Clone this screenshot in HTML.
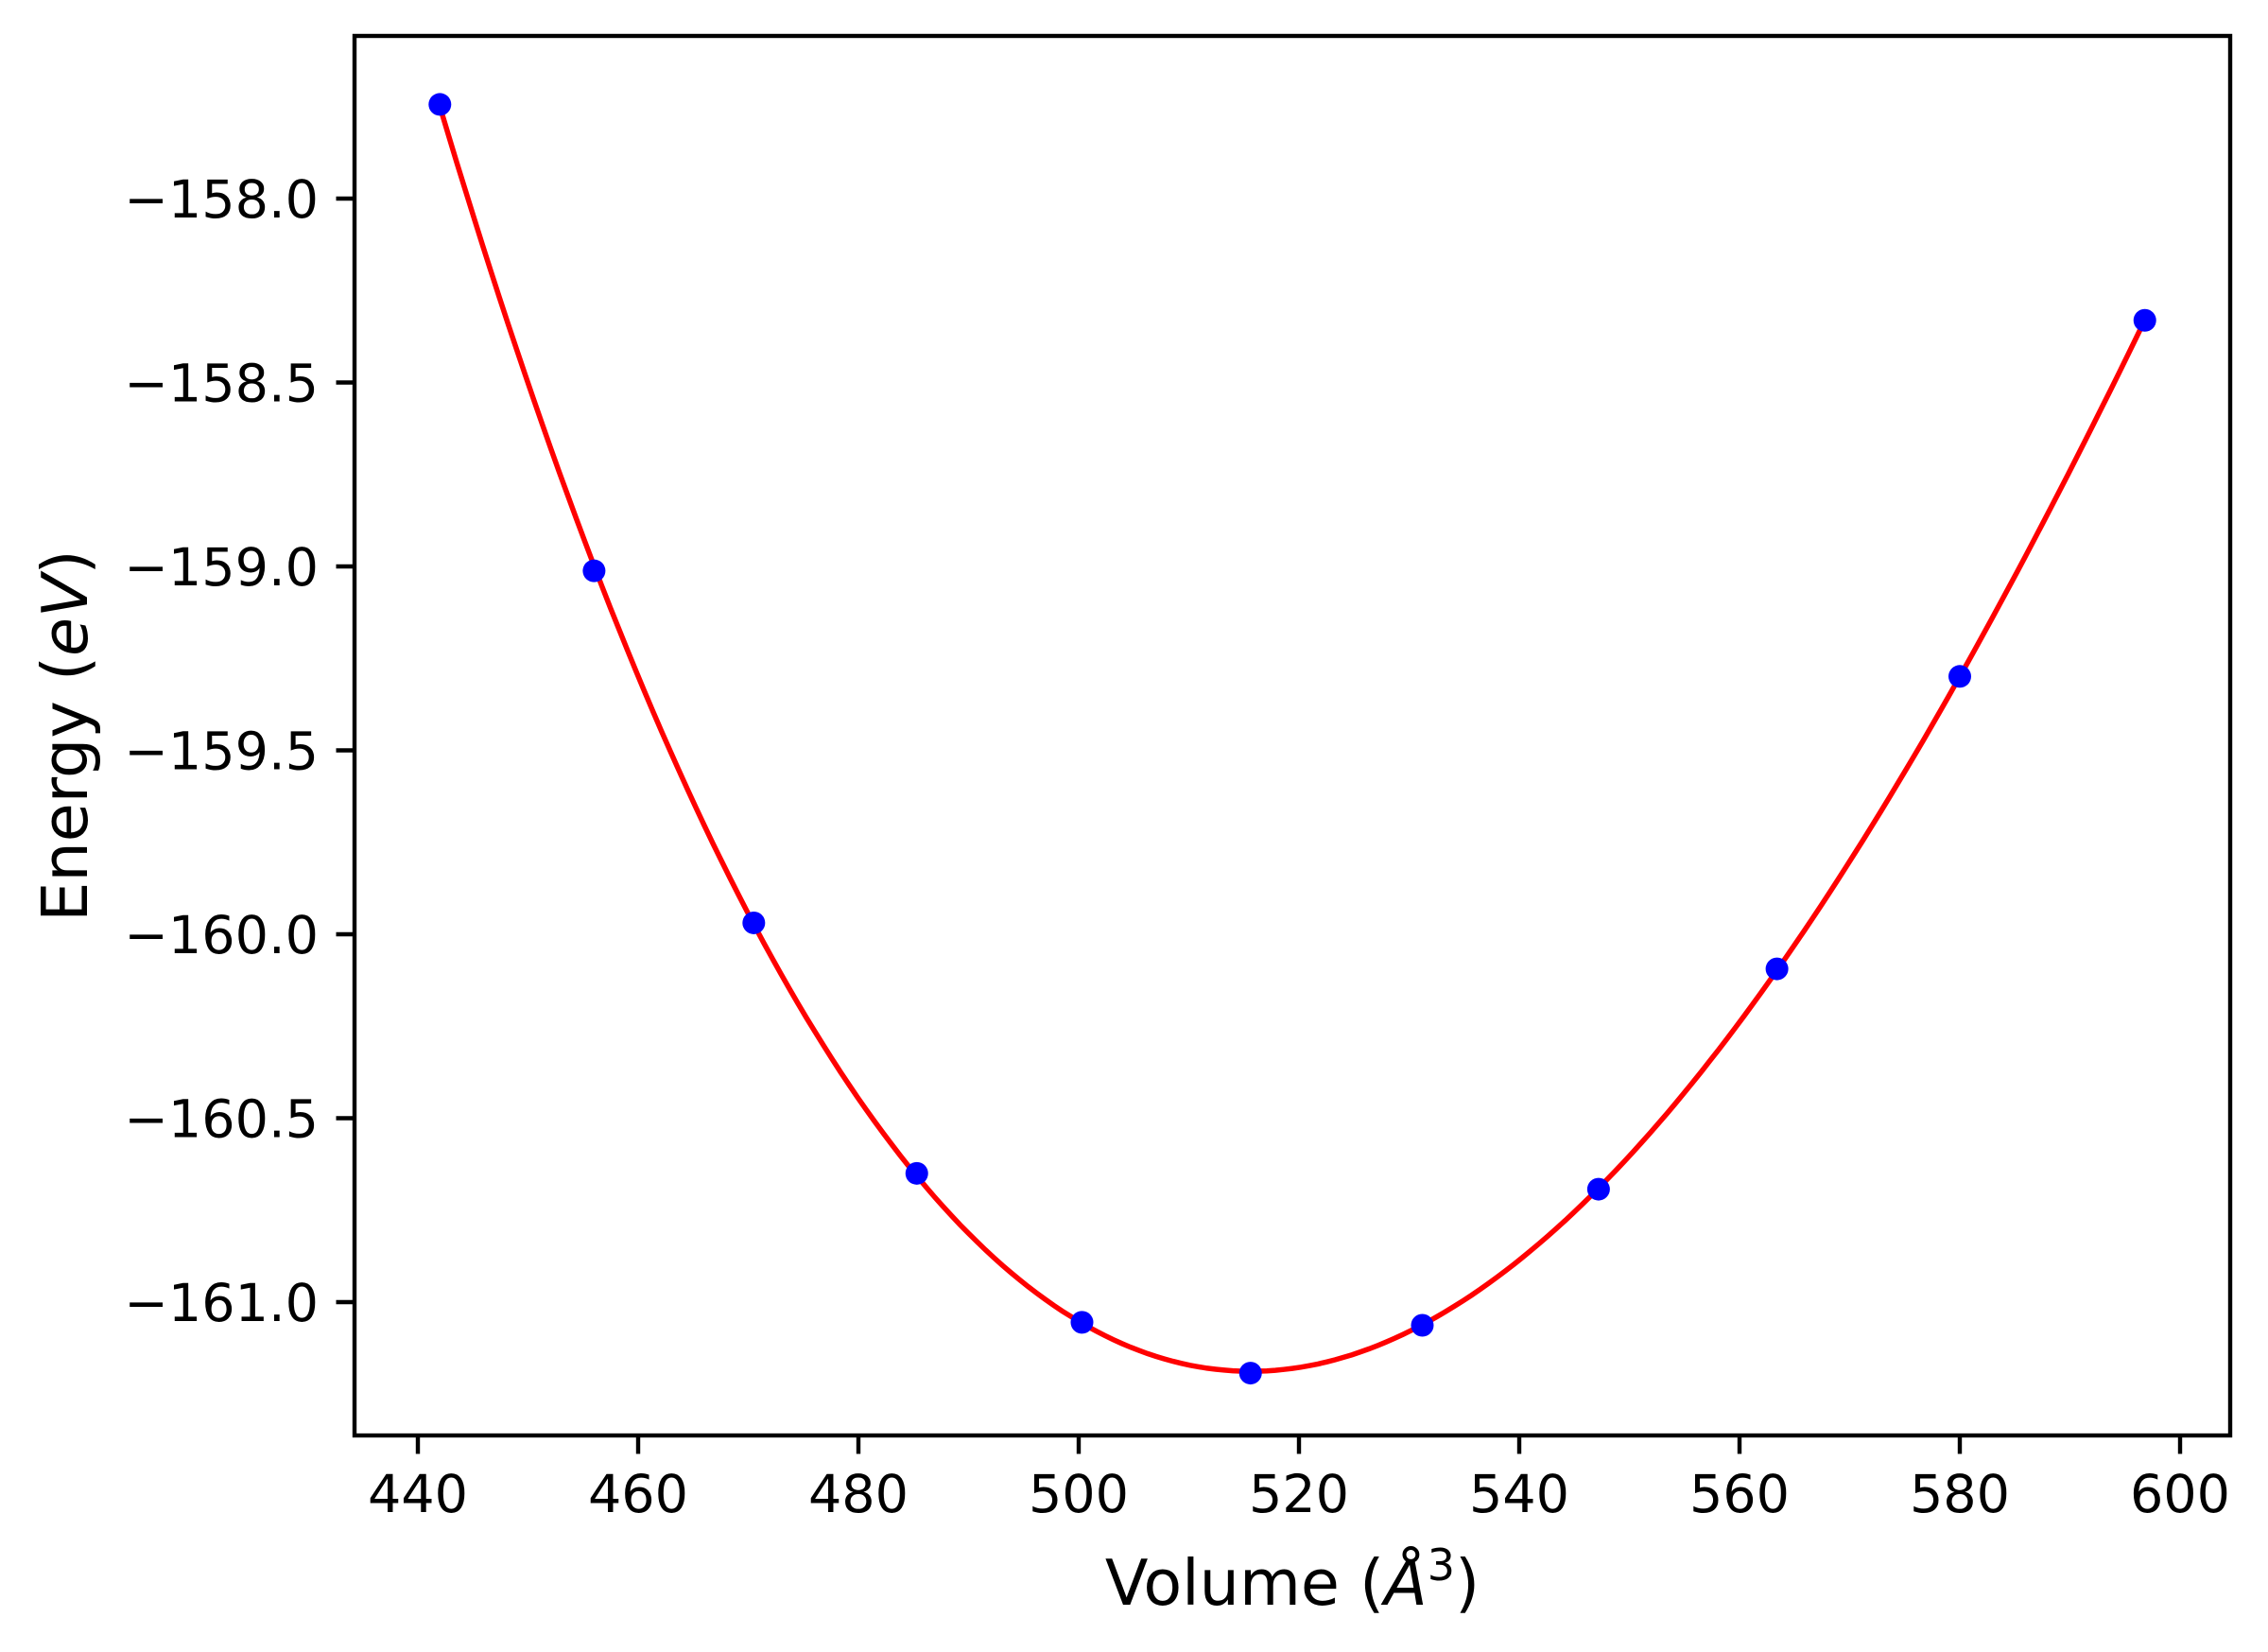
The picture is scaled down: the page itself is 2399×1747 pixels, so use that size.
<!DOCTYPE html>
<html><head><meta charset="utf-8"><style>body{margin:0;background:#fff}svg{display:block}text{font-family:"DejaVu Sans","Liberation Sans",sans-serif;fill:#000}</style></head>
<body>
<svg id="chart" width="2399" height="1747" viewBox="0 0 2399 1747" xmlns="http://www.w3.org/2000/svg">
<rect width="2399" height="1747" fill="#fff"/>
<g id="plot"></g>
<rect x="375" y="38" width="1984" height="1480" fill="none" stroke="#000" stroke-width="4.4"/>
<text x="1367" y="1697" font-size="66.7" text-anchor="middle">Volume (<tspan font-style="italic">Å</tspan><tspan font-size="46" dy="-26">3</tspan><tspan dy="26">)</tspan></text>
<text transform="translate(92,778) rotate(-90)" font-size="66.7" text-anchor="middle">Energy (<tspan font-style="italic">eV</tspan>)</text>
</svg>
<script>
const volumes = [442.0, 456.0, 470.5, 485.3, 500.3, 515.6, 531.2, 547.2, 563.4, 580.0, 596.8];
const energies = [-157.744, -159.012, -159.969, -160.650, -161.055, -161.193, -161.063, -160.693, -160.094, -159.299, -158.331];
const xTicks = [440, 460, 480, 500, 520, 540, 560, 580, 600];
const yTicks = [-158.0, -158.5, -159.0, -159.5, -160.0, -160.5, -161.0];
const yTickLabels = ["\u2212158.0", "\u2212158.5", "\u2212159.0", "\u2212159.5", "\u2212160.0", "\u2212160.5", "\u2212161.0"];

const NS = "http://www.w3.org/2000/svg";
const plot = document.getElementById('plot');
const X = v => 442 + (v - 440) * (2306 - 442) / 160;
const Y = e => 210 + (-158.0 - e) * (1377 - 210) / 3.0;
function mk(tag, attrs) { const el = document.createElementNS(NS, tag); for (const k in attrs) el.setAttribute(k, attrs[k]); plot.appendChild(el); return el; }

xTicks.forEach(t => {
  const l = mk('line', {x1: X(t), x2: X(t), y1: 1518, y2: 1537.5, stroke: '#000', 'stroke-width': 4.4});
  
  
  const tx = mk('text', {x: X(t), y: 1599, 'font-size': 55.6, 'text-anchor': 'middle'});
  tx.textContent = String(t);
  
  
});
yTicks.forEach((t, i) => {
  const l = mk('line', {x1: 355.5, x2: 375, y1: Y(t), y2: Y(t), stroke: '#000', 'stroke-width': 4.4});
  
  
  const tx = mk('text', {x: 337, y: Y(t) + 20, 'font-size': 55.6, 'text-anchor': 'end'});
  tx.textContent = yTickLabels[i];
  
  
});

// cubic least-squares fit curve through the data
const m = volumes.reduce((a, b) => a + b) / volumes.length;
const n = 4, A = [], b = [];
for (let i = 0; i < n; i++) { A.push(new Array(n).fill(0)); b.push(0); }
volumes.forEach((v, k) => { const u = (v - m) / 50;
  for (let i = 0; i < n; i++) { b[i] += Math.pow(u, i) * energies[k]; for (let j = 0; j < n; j++) A[i][j] += Math.pow(u, i + j); } });
for (let i = 0; i < n; i++) { for (let r = i + 1; r < n; r++) { const f = A[r][i] / A[i][i]; for (let c = i; c < n; c++) A[r][c] -= f * A[i][c]; b[r] -= f * b[i]; } }
const c = new Array(n).fill(0);
for (let i = n - 1; i >= 0; i--) { let s = b[i]; for (let j = i + 1; j < n; j++) s -= A[i][j] * c[j]; c[i] = s / A[i][i]; }
const fit = v => { const u = (v - m) / 50; let s = 0; for (let i = 0; i < n; i++) s += c[i] * Math.pow(u, i); return s; };
let d = '';
const v0 = volumes[0], v1 = volumes[volumes.length - 1];
for (let k = 0; k <= 200; k++) { const v = v0 + (v1 - v0) * k / 200; d += (k ? 'L' : 'M') + X(v).toFixed(1) + ',' + Y(fit(v)).toFixed(1); }
const path = mk('path', {d: d, fill: 'none', stroke: '#ff0000', 'stroke-width': 5.5});



volumes.forEach((v, i) => {
  const p = mk('circle', {cx: X(v), cy: Y(energies[i]), r: 12, fill: '#0000ff'});
  
  
});
</script>
</body></html>
